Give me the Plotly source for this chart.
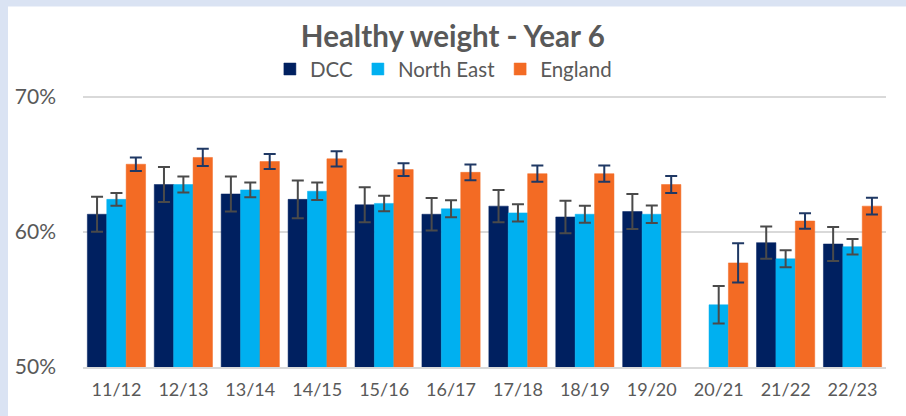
import plotly.graph_objects as go

# school years on the x axis
years = ['11/12', '12/13', '13/14', '14/15', '15/16', '16/17',
         '17/18', '18/19', '19/20', '20/21', '21/22', '22/23']

# percentage of Year 6 children at a healthy weight
dcc = [61.3, 63.5, 62.8, 62.4, 62.0, 61.3, 61.9, 61.1, 61.5, None, 59.2, 59.1]
north_east = [62.4, 63.5, 63.1, 63.0, 62.1, 61.7, 61.4, 61.3, 61.3, 54.6, 58.0, 58.9]
england = [65.0, 65.5, 65.2, 65.4, 64.6, 64.4, 64.3, 64.3, 63.5, 57.7, 60.8, 61.9]

# 95% confidence interval half widths
dcc_ci = [1.3, 1.3, 1.3, 1.4, 1.3, 1.2, 1.2, 1.2, 1.3, None, 1.2, 1.25]
north_east_ci = [0.47, 0.6, 0.55, 0.64, 0.57, 0.63, 0.63, 0.63, 0.64, 1.39, 0.63, 0.57]
england_ci = [0.5, 0.64, 0.55, 0.56, 0.47, 0.58, 0.6, 0.6, 0.63, 1.45, 0.58, 0.62]

y_ticks = [50, 60, 70]
y_tick_labels = ['50%', '60%', '70%']

FONT = "Lato"
GREY_TEXT = "#595959"


def bar_trace(name, values, ci, colour, err_colour):
    return go.Bar(
        x=years, y=values, name=name,
        marker=dict(color=colour, line=dict(color=colour, width=0.5)),
        error_y=dict(type='data', array=ci, visible=True,
                     color=err_colour, thickness=2, width=6),
    )


fig = go.Figure()
fig.add_trace(bar_trace("DCC", dcc, dcc_ci, "#002060", "#4a4a4a"))
fig.add_trace(bar_trace("North East", north_east, north_east_ci, "#00b0f0", "#4a4a4a"))
fig.add_trace(bar_trace("England", england, england_ci, "#f36b24", "#1f3864"))

fig.update_layout(
    width=906, height=416,
    barmode='group', bargap=0.13, bargroupgap=0,
    paper_bgcolor="#dae3f3", plot_bgcolor="white",
    margin=dict(l=83, r=20, t=95.4, b=49, autoexpand=False),
    font=dict(family=FONT, color=GREY_TEXT),
    title=dict(text="<b>Healthy weight - Year 6</b>", x=0.4998, xref='container',
               xanchor='center', y=0.9108, yref='container', yanchor='middle',
               font=dict(size=29.5, color=GREY_TEXT, family=FONT)),
    legend=dict(orientation='h', x=0.4894, xref='container', xanchor='center',
                y=0.8337, yref='container', yanchor='middle',
                font=dict(size=20.5, color=GREY_TEXT), itemwidth=30,
                bgcolor='rgba(0,0,0,0)'),
    # white chart panel inside the light blue frame
    shapes=[dict(type='rect', xref='paper', yref='paper',
                 x0=-0.0934, x1=1.05, y0=-0.2, y1=1.3255,
                 fillcolor='white', line=dict(width=0), layer='below')],
)

# top of range nudged past 70 so the 70% gridline is not clipped at the edge
fig.update_yaxes(range=[50, 70.12], tickvals=y_ticks, ticktext=y_tick_labels,
                 showgrid=True, gridcolor="#d9d9d9", gridwidth=1.5,
                 zeroline=False, showline=False, automargin=False,
                 tickfont=dict(size=21, color=GREY_TEXT),
                 ticklabelstandoff=26)
fig.update_xaxes(range=[-0.5, 11.5], showline=True, linecolor="#d9d9d9",
                 linewidth=1.5, tickfont=dict(size=18, color=GREY_TEXT),
                 ticks='', ticklabelstandoff=6, automargin=False)

# drop the default page margin so the figure fills the window exactly
fig.write_html("out.html", config={'displayModeBar': False},
               post_script="document.body.style.margin = '0';")
